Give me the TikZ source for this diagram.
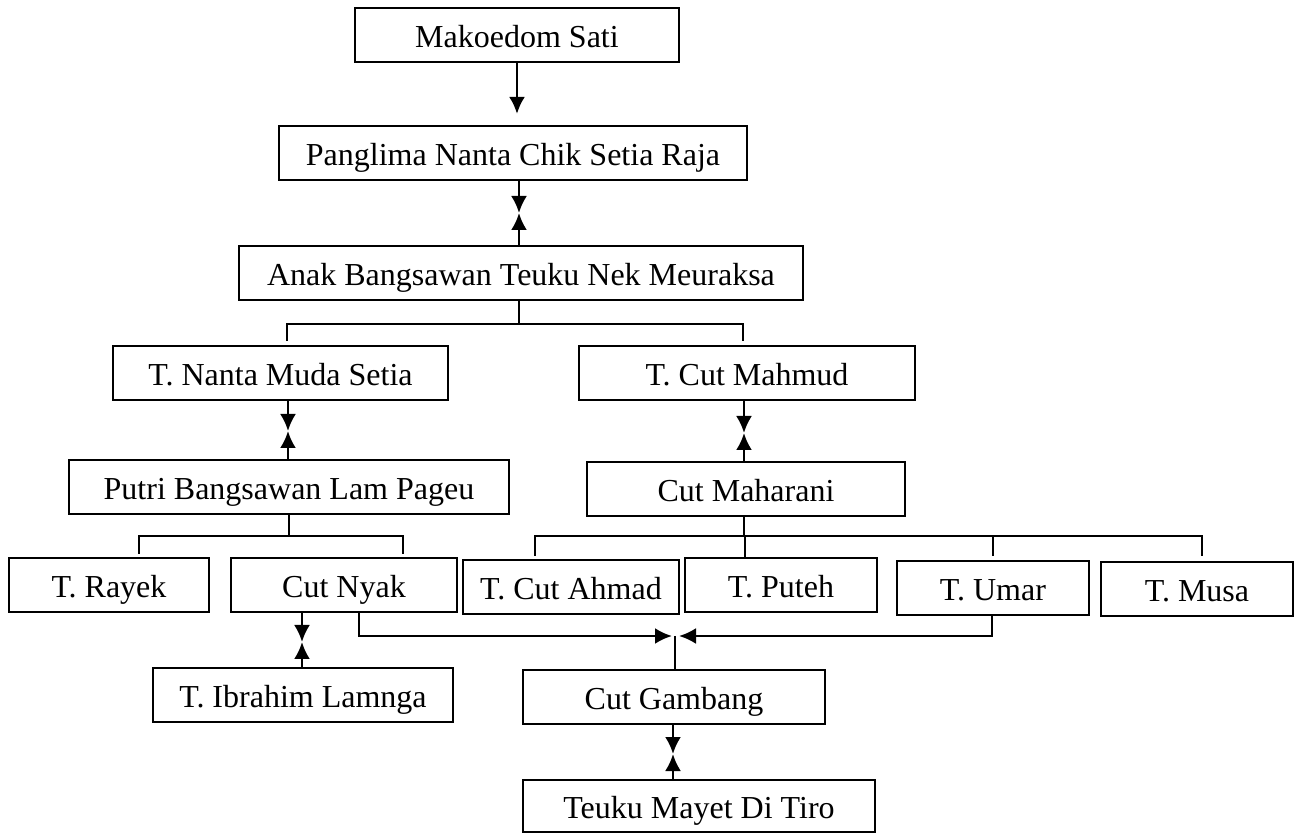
\documentclass[tikz,border=0pt]{standalone}
\usepackage{fontspec}
\setmainfont{Liberation Serif}
\usetikzlibrary{arrows.meta}
\tikzset{
  namebox/.style={draw,line width=1.1pt,minimum height=27pt,inner sep=2pt,
    text height=13pt,text depth=0pt,font=\fontsize{16pt}{19pt}\selectfont},
  conn/.style={line width=1.1pt},
  arr/.style={line width=1.3pt,-{Latex[length=8.5pt,width=8pt]}}
}

\begin{document}
\begin{tikzpicture}[x=0.5pt,y=-0.5pt]
  \useasboundingbox (0,0) rectangle (1298,834);
  % the line of descent
  \node[namebox,minimum width=162pt] (mako) at (517,35) {Makoedom Sati};
  \node[namebox,minimum width=234pt] (pang) at (513,153) {Panglima Nanta Chik Setia Raja};
  \node[namebox,minimum width=282pt] (anak) at (521,273) {Anak Bangsawan Teuku Nek Meuraksa};
  \node[namebox,minimum width=167.5pt] (nanta) at (280.5,373) {T. Nanta Muda Setia};
  \node[namebox,minimum width=168pt] (mahmud) at (747,373) {T. Cut Mahmud};
  \node[namebox,minimum width=220pt] (putri) at (289,487) {Putri Bangsawan Lam Pageu};
  \node[namebox,minimum width=159pt] (maharani) at (746,489) {Cut Maharani};
  \node[namebox,minimum width=100pt] (rayek) at (109,585) {T. Rayek};
  \node[namebox,minimum width=113pt] (nyak) at (344,585) {Cut Nyak};
  \node[namebox,minimum width=108pt] (ahmad) at (571,587) {T. Cut Ahmad};
  \node[namebox,minimum width=96pt] (puteh) at (781,585) {T. Puteh};
  \node[namebox,minimum width=96pt] (umar) at (993,588) {T. Umar};
  \node[namebox,minimum width=96pt] (musa) at (1197,589) {T. Musa};
  \node[namebox,minimum width=150pt] (ibrahim) at (303,695) {T. Ibrahim Lamnga};
  \node[namebox,minimum width=151pt] (gambang) at (674,697) {Cut Gambang};
  \node[namebox,minimum width=176pt,minimum height=26pt] (mayet) at (699,806) {Teuku Mayet Di Tiro};

  \draw[arr,shorten >=5.5pt] (mako.south) -- (mako.south |- pang.north);

  % marriages
  \coordinate (m1) at (519,213);
  \coordinate (m2) at (288,431);
  \coordinate (m3) at (744,433);
  \coordinate (m4) at (302,642);
  \coordinate (m5) at (673,754);
  \foreach \a/\b/\m in {pang/anak/m1,nanta/putri/m2,mahmud/maharani/m3,nyak/ibrahim/m4,gambang/mayet/m5}
  {
    \draw[arr] (\m |- \a.south) -- (\m);
    \draw[arr] (\m |- \b.north) -- (\m);
  }

  % children of Teuku Nek Meuraksa
  \coordinate (aL) at (287,324);
  \coordinate (aR) at (743,324);
  \draw[conn] (m1 |- anak.south) -- (m1 |- aL);
  \draw[conn,shorten <=2pt,shorten >=2pt] (aL |- nanta.north) -- (aL) -- (aR) -- (aR |- mahmud.north);

  % children of Lam Pageu
  \coordinate (pL) at (139,536);
  \coordinate (pR) at (403,536);
  \draw[conn] (putri.south) -- (putri.south |- pL);
  \draw[conn,shorten <=1.5pt,shorten >=1.5pt] (pL |- rayek.north) -- (pL) -- (pR) -- (pR |- nyak.north);

  % children of Cut Maharani
  \coordinate (mL) at (535,536);
  \coordinate (mR) at (1202,536);
  \coordinate (mP) at (745,536);
  \coordinate (mU) at (993,536);
  \draw[conn] (m3 |- maharani.south) -- (m3 |- mL);
  \draw[conn,shorten <=1.5pt,shorten >=2.5pt] (mL |- ahmad.north) -- (mL) -- (mR) -- (mR |- musa.north);
  \draw[conn] (mP) -- (mP |- puteh.north);
  \draw[conn,shorten >=2pt] (mU) -- (mU |- umar.north);

  % Cut Gambang
  \coordinate (gj) at (675,636);
  \coordinate (nj) at (359,636);
  \coordinate (uj) at (992,636);
  \draw[arr,shorten >=1.5pt] (nj |- nyak.south) -- (nj) -- (gj);
  \draw[arr,shorten >=2pt] (uj |- umar.south) -- (uj) -- (gj);
  \draw[conn] (gj) -- (gj |- gambang.north);
\end{tikzpicture}
\end{document}
